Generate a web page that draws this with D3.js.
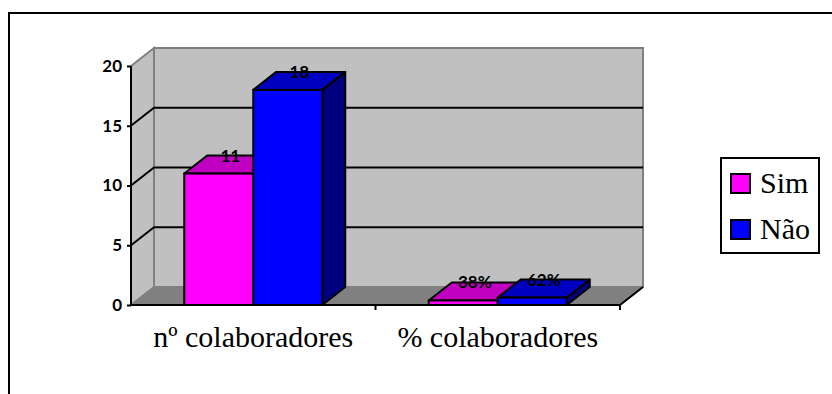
<!DOCTYPE html>
<html>
<head>
<meta charset="utf-8">
<script src="https://cdn.jsdelivr.net/npm/d3@7"></script>
<style>
  html, body { margin: 0; padding: 0; background: #fff; }
  svg { display: block; }
</style>
</head>
<body>
<svg id="chart" width="832" height="394"></svg>
<script>
// Chart data
const categories = ["nº colaboradores", "% colaboradores"];
const series = ["Sim", "Não"];
const simValues = [11, 0.38];
const naoValues = [18, 0.62];
const valueLabels = [["11", "38%"], ["18", "62%"]];
const yTicks = [0, 5, 10, 15, 20];

const seriesValues = [simValues, naoValues];
const colors = {
  Sim: { front: "#ff00ff", top: "#c000c0", side: "#800080" },
  "Não": { front: "#0000ff", top: "#0000c0", side: "#000080" }
};

// Text styles
const numFont = sel => sel
  .style("font-family", "Lato")
  .style("font-weight", "700")
  .style("font-size", "17px")
  .style("fill", "#000");
const serifFont = sel => sel
  .style("font-family", "Liberation Serif")
  .style("font-size", "30px")
  .style("fill", "#000");

const svg = d3.select("#chart");

// Outer frame (runs past the right and bottom edges)
svg.append("rect")
  .attr("x", 9).attr("y", 13)
  .attr("width", 840).attr("height", 400)
  .attr("fill", "#fff").attr("stroke", "#000").attr("stroke-width", 2);

// Plot geometry
const plotLeft = 131, plotRight = 620, plotBottom = 305, plotTop = 66;
const dx = 23, dy = -18; // depth offset of the 3D box

const y = d3.scaleLinear().domain([0, 20]).range([plotBottom, plotTop]);
const x0 = d3.scaleBand().domain(categories).range([plotLeft, plotRight]).padding(0);
const x1 = d3.scaleBand().domain(series)
  .range([0, x0.bandwidth()]).paddingInner(0).paddingOuter(0.772);

const pts = p => p.map(d => d.join(",")).join(" ");

// Side wall
svg.append("polygon")
  .attr("points", pts([[plotLeft, y(20)], [plotLeft + dx, y(20) + dy], [plotLeft + dx, plotBottom + dy], [plotLeft, plotBottom]]))
  .attr("fill", "#c0c0c0").attr("stroke", "#808080").attr("stroke-width", 2);

// Back wall
svg.append("rect")
  .attr("x", plotLeft + dx).attr("y", y(20) + dy)
  .attr("width", plotRight - plotLeft).attr("height", plotBottom - y(20))
  .attr("fill", "#c0c0c0").attr("stroke", "#808080").attr("stroke-width", 2);

// Floor
svg.append("polygon")
  .attr("points", pts([[plotLeft, plotBottom], [plotLeft + dx, plotBottom + dy], [plotRight + dx, plotBottom + dy], [plotRight, plotBottom]]))
  .attr("fill", "#808080").attr("stroke", "#808080").attr("stroke-width", 1);
svg.append("line")
  .attr("x1", plotRight).attr("y1", plotBottom).attr("x2", plotRight + dx).attr("y2", plotBottom + dy)
  .attr("stroke", "#000").attr("stroke-width", 2);

// Gridlines on the side wall and back wall
const grid = yTicks.filter(t => t > 0 && t < 20);
svg.append("g").selectAll("path").data(grid).join("path")
  .attr("d", t => `M${plotLeft},${y(t)}L${plotLeft + dx},${y(t) + dy}L${plotRight + dx},${y(t) + dy}`)
  .attr("fill", "none").attr("stroke", "#000").attr("stroke-width", 2);

// Axes
const yAxis = svg.append("g").attr("transform", `translate(${plotLeft},0)`)
  .call(d3.axisLeft(y).tickValues(yTicks).tickSize(4).tickPadding(5));
yAxis.select(".domain").attr("stroke-width", 2).attr("d", `M0,${y(20)}V${plotBottom}`);
yAxis.selectAll(".tick line").attr("stroke-width", 2);
yAxis.selectAll(".tick text").call(numFont);

svg.append("line")
  .attr("x1", plotLeft).attr("y1", plotBottom).attr("x2", plotRight).attr("y2", plotBottom)
  .attr("stroke", "#000").attr("stroke-width", 2);
svg.append("g").selectAll("line").data(categories).join("line")
  .attr("x1", d => x0(d) + x0.bandwidth()).attr("x2", d => x0(d) + x0.bandwidth())
  .attr("y1", plotBottom).attr("y2", plotBottom + 5)
  .attr("stroke", "#000").attr("stroke-width", 2);

svg.append("g").selectAll("text").data(categories).join("text")
  .attr("x", d => x0(d) + x0.bandwidth() / 2)
  .attr("y", 347)
  .attr("text-anchor", "middle")
  .call(serifFont)
  .text(d => d);

// Bars
const bars = [];
series.forEach((s, si) => {
  categories.forEach((c, ci) => {
    bars.push({ s, c, v: seriesValues[si][ci], label: valueLabels[si][ci] });
  });
});

const bg = svg.append("g").selectAll("g").data(bars).join("g");
bg.each(function (d) {
  const g = d3.select(this);
  const x = x0(d.c) + x1(d.s), w = x1.bandwidth();
  const yt = y(d.v);
  const col = colors[d.s];
  g.append("polygon")
    .attr("points", pts([[x + w, yt], [x + w + dx, yt + dy], [x + w + dx, plotBottom + dy], [x + w, plotBottom]]))
    .attr("fill", col.side).attr("stroke", "#000").attr("stroke-width", 2).attr("stroke-linejoin", "round");
  g.append("polygon")
    .attr("points", pts([[x, yt], [x + dx, yt + dy], [x + w + dx, yt + dy], [x + w, yt]]))
    .attr("fill", col.top).attr("stroke", "#000").attr("stroke-width", 2).attr("stroke-linejoin", "round");
  g.append("rect")
    .attr("x", x).attr("y", yt).attr("width", w).attr("height", plotBottom - yt)
    .attr("fill", col.front).attr("stroke", "#000").attr("stroke-width", 2);
});

// Value labels
svg.append("g").selectAll("text").data(bars).join("text")
  .attr("x", d => x0(d.c) + x1(d.s) + x1.bandwidth() / 2 + dx / 2)
  .attr("y", d => y(d.v) - 12)
  .attr("text-anchor", "middle")
  .call(numFont)
  .text(d => d.label);

// Legend
const lg = svg.append("g");
lg.append("rect")
  .attr("x", 721).attr("y", 158).attr("width", 98).attr("height", 95)
  .attr("fill", "#fff").attr("stroke", "#000").attr("stroke-width", 2);
const items = lg.selectAll("g").data(series).join("g")
  .attr("transform", (d, i) => `translate(731,${174 + i * 46})`);
items.append("rect")
  .attr("width", 19).attr("height", 19)
  .attr("fill", d => colors[d].front).attr("stroke", "#000").attr("stroke-width", 2);
items.append("text")
  .attr("x", 29).attr("y", 19)
  .call(serifFont)
  .text(d => d);
</script>
</body>
</html>
